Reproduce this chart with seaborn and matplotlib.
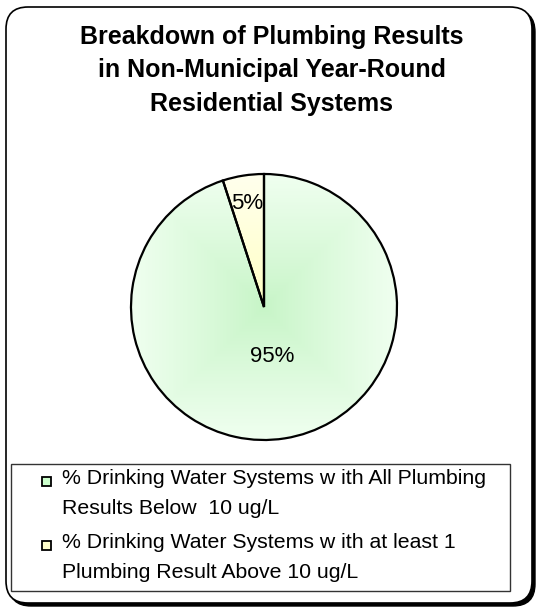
import numpy as np
import matplotlib
matplotlib.use("Agg")
import matplotlib.pyplot as plt
import seaborn as sns
from matplotlib.patches import FancyBboxPatch, Rectangle

# ---- data ----
categories = ["% Drinking Water Systems w ith All Plumbing\nResults Below  10 ug/L",
              "% Drinking Water Systems w ith at least 1\nPlumbing Result Above 10 ug/L"]
values = [95, 5]
pct_labels = ["95%", "5%"]
title_lines = ["Breakdown of Plumbing Results",
               "in Non-Municipal Year-Round",
               "Residential Systems"]

# ---- style ----
base_colors = ["#CCFFCC", "#FFFFCC"]
center_rgb = [(0.78, 0.96, 0.78), (1.0, 1.0, 0.76)]
edge_rgb = [(0.94, 1.0, 0.94), (1.0, 1.0, 0.93)]

sns.set_theme(style="white")
FONT = ["Liberation Sans", "DejaVu Sans"]
plt.rcParams["font.family"] = FONT

W, H = 538, 609
fig = plt.figure(figsize=(W / 100, H / 100), dpi=100)
fig.patch.set_facecolor("white")

# background axes in pixel coordinates
bg = fig.add_axes([0, 0, 1, 1], zorder=0)
bg.set_xlim(0, W)
bg.set_ylim(H, 0)
bg.axis("off")

# figure border with shadow
shadow = FancyBboxPatch((9, 10), 526, 596, boxstyle="round,pad=0,rounding_size=22",
                        facecolor="black", edgecolor="black", linewidth=1)
bg.add_patch(shadow)
border = FancyBboxPatch((6, 7), 526, 596, boxstyle="round,pad=0,rounding_size=22",
                        facecolor="white", edgecolor="black", linewidth=1.2)
bg.add_patch(border)

# title
title_y = [37, 70.5, 104]
for ty, line in zip(title_y, title_lines):
    bg.text(272, ty, line, ha="center", va="center", fontsize=18,
            fontweight="bold", color="black", family=FONT)

# legend box
bg.add_patch(Rectangle((11, 464), 499, 127, facecolor="white", edgecolor="#333333",
                       linewidth=1))
item_y = [479, 543]
for k, (lab, col) in enumerate(zip(categories, base_colors)):
    y0 = item_y[k]
    bg.add_patch(Rectangle((42, y0 - 2), 9, 9, facecolor=col, edgecolor="black",
                           linewidth=1.3))
    for j, ln in enumerate(lab.split("\n")):
        bg.text(62, y0 + 29 * j, ln, ha="left", va="center", fontsize=15.3,
                color="black", family=FONT)

# pie axes
cx, cy, R, half = 264, 307, 133, 140
ax = fig.add_axes([(cx - half) / W, (H - cy - half) / H, 2 * half / W, 2 * half / H], zorder=1)
ax.patch.set_alpha(0)
wedges, _ = ax.pie(values, colors=base_colors, startangle=90, counterclock=False,
                   radius=1, wedgeprops=dict(edgecolor="black", linewidth=1.6))
lim = half / R
ax.axis("off")

# gradient fills clipped to each wedge
n = 300
xs = np.linspace(-1, 1, n)
X, Y = np.meshgrid(xs, xs)
t = np.clip(np.maximum(np.abs(X), np.abs(Y)), 0, 1) ** 0.9
for w, c0, c1 in zip(wedges, center_rgb, edge_rgb):
    img = np.zeros((n, n, 3))
    for ch in range(3):
        img[..., ch] = c0[ch] + (c1[ch] - c0[ch]) * t
    im = ax.imshow(img, extent=(-1, 1, -1, 1), origin="lower", zorder=0.5,
                   interpolation="bilinear")
    im.set_clip_path(w)
    w.set_facecolor("none")
    w.set_zorder(2)
ax.set_xlim(-lim, lim)
ax.set_ylim(-lim, lim)

# percentage labels
dists = [0.38, 0.79]
for w, lab, d in zip(wedges, pct_labels, dists):
    th = np.deg2rad((w.theta1 + w.theta2) / 2)
    ax.text(d * np.cos(th), d * np.sin(th), lab, ha="center", va="center",
            fontsize=16, color="black", family=FONT, zorder=3)

fig.savefig("out.png", dpi=100, facecolor="white")
